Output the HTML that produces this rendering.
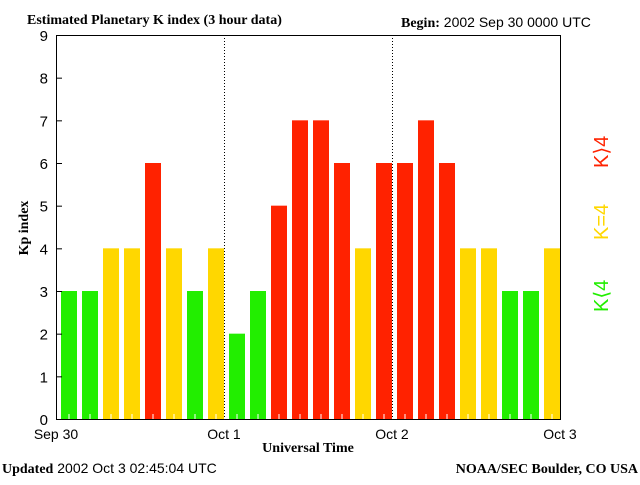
<!DOCTYPE html>
<html><head><meta charset="utf-8"><style>
body{margin:0;background:#fff;width:640px;height:480px;overflow:hidden}
svg text{font-family:"Liberation Sans",sans-serif}
.s{font-family:"Liberation Serif",serif;font-weight:bold}
.l{font-family:"Liberation Serif",serif}
</style></head><body>
<svg width="640" height="480">
<text class="s" x="27" y="24" font-size="14">Estimated Planetary K index (3 hour data)</text>
<text x="401" y="27" font-size="14"><tspan class="s">Begin:</tspan>  2002 Sep 30 0000 UTC</text>
<text class="s" x="0" y="0" font-size="14" transform="translate(28,228) rotate(-90)" text-anchor="middle">Kp index</text>
<text class="s" x="308" y="452" font-size="14" text-anchor="middle">Universal Time</text>
<text x="2" y="473" font-size="14"><tspan class="s">Updated</tspan> 2002 Oct  3 02:45:04 UTC</text>
<text class="s" x="638" y="473" font-size="14" text-anchor="end">NOAA/SEC Boulder, CO USA</text>
<g font-size="20" class="l">
<text transform="translate(608,312) rotate(-90)" fill="#22ee00">K⟨4</text>
<text transform="translate(608,240) rotate(-90)" fill="#ffd700">K=4</text>
<text transform="translate(608,168) rotate(-90)" fill="#ff2200">K⟩4</text>
</g>
<g id="plot"></g>
</svg>
<script>
const kpValues=[3,3,4,4,6,4,3,4,2,3,5,7,7,6,4,6,6,7,6,4,4,3,3,4];
const yTicks=[0,1,2,3,4,5,6,7,8,9];
const xLabels=["Sep 30","Oct 1","Oct 2","Oct 3"];
const L=56,R=560,T=35,B=419;
const NS="http://www.w3.org/2000/svg";
const g=document.getElementById('plot');
const xs=i=>L+(R-L)*i/kpValues.length;
const ys=v=>B-(B-T)*v/9;
function mk(t,a){const e=document.createElementNS(NS,t);for(const k in a)e.setAttribute(k,a[k]);g.appendChild(e);return e;}
kpValues.forEach((v,i)=>{
 const c=v<4?'#22ee00':v==4?'#ffd700':'#ff2200';
 const w=(R-L)/kpValues.length;
 const r=mk('rect',{x:xs(i)+5,y:ys(v),width:w-5,height:B-ys(v),fill:c});
 
 
 const tk=mk('line',{x1:xs(i)+w/2+2.5,x2:xs(i)+w/2+2.5,y1:B-5,y2:B,stroke:'#fff'});
 
 
});
[1,2].forEach(d=>{const l=mk('line',{x1:L+168*d+0.5,x2:L+168*d+0.5,y1:T,y2:B,stroke:'#000','stroke-dasharray':'1,2'});
 
 });
const f=mk('rect',{x:L+0.5,y:T+0.5,width:R-L,height:B-T,fill:'none',stroke:'#000'});


yTicks.forEach(v=>{
 const l=mk('line',{x1:L,x2:L+6,y1:ys(v)+0.5,y2:ys(v)+0.5,stroke:'#000'});
 
 
 const t=mk('text',{x:48,y:ys(v)+6,'font-size':15,'text-anchor':'end'});t.textContent=v;
 
 
});
xLabels.forEach((s,i)=>{
 const t=mk('text',{x:L+168*i,y:439,'font-size':14,'text-anchor':'middle'});t.textContent=s;
 
 
});
</script>
</body></html>
